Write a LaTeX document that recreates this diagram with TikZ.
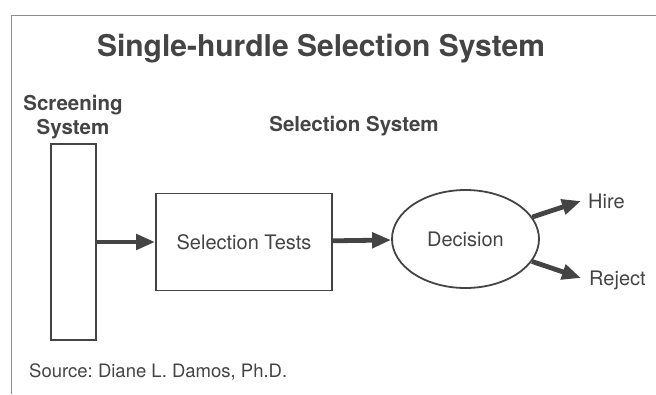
\documentclass[tikz,border=0pt]{standalone}
\usepackage{fontspec}
\setmainfont{TeX Gyre Heros}
\usepackage{xcolor}
\definecolor{inkGray}{HTML}{444444}
\definecolor{frameGray}{HTML}{8C8C8C}
\usetikzlibrary{arrows.meta,shapes.geometric}
\frenchspacing

\begin{document}
\begin{tikzpicture}[x=1pt,y=-1pt,
  box/.style={draw=inkGray, line width=1.8pt, inner sep=0pt},
  flow/.style={draw=inkGray, line width=4.8pt, -{Triangle[length=19pt,width=15pt]}},
  lbl/.style={text=inkGray, inner sep=0pt, font=\fontsize{20}{23}\selectfont},
  head/.style={text=inkGray, inner sep=0pt, align=center, font=\bfseries\fontsize{20.5}{24}\selectfont}]
  \useasboundingbox (0,0) rectangle (656,394);
  % frame (top and left edges only)
  \draw[frameGray, line width=1pt] (656,15) -- (11,15) -- (11,394);
  % headings
  \node[head, font=\bfseries\fontsize{30}{34}\selectfont] (title) at (321,49) {Single-hurdle Selection System};
  \node[head] (screenHead) at (73,117) {Screening\\System};
  \node[head] (selHead) at (354,126) {Selection System};
  % boxes
  \node[box, minimum width=45pt, minimum height=196pt] (screen) at (73.5,242) {};
  \node[box, lbl, minimum width=176pt, minimum height=97pt] (tests) at (244,242) {Selection Tests};
  \node[box, lbl, ellipse, minimum width=147pt, minimum height=98pt] (decision) at (465.5,239) {Decision};
  % outcomes
  \coordinate (hireTip) at (581,201);
  \coordinate (rejectTip) at (581,278);
  \node[lbl, anchor=west] (hire) at (588,201) {Hire};
  \node[lbl, anchor=west] (reject) at (589,280) {Reject};
  % connectors
  \draw[flow] (screen) -- (tests);
  \draw[flow] (tests) -- (decision);
  \draw[flow] (decision) -- (hireTip);
  \draw[flow] (decision) -- (rejectTip);
  % note
  \node[lbl, anchor=west, font=\fontsize{18.5}{22}\selectfont] (source) at (29,372) {Source: Diane L. Damos, Ph.D.};
\end{tikzpicture}
\end{document}
